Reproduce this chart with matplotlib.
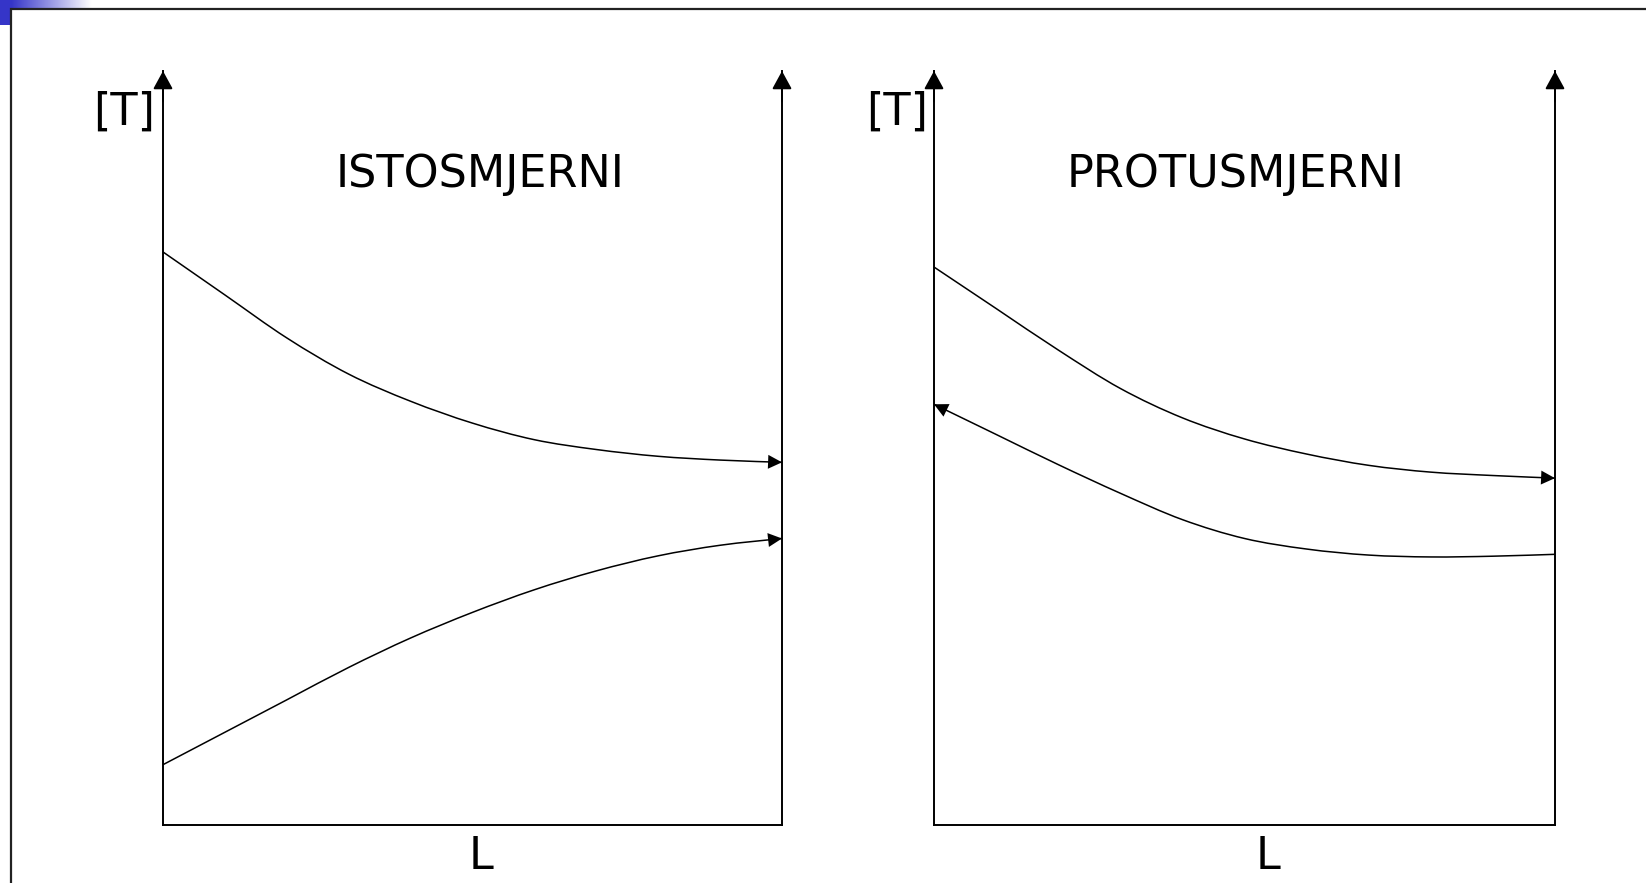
import numpy as np
import matplotlib
matplotlib.use("Agg")
import matplotlib.pyplot as plt
from matplotlib.patches import Rectangle, PathPatch
from matplotlib.path import Path
from matplotlib.colors import LinearSegmentedColormap

# --- data (L in 0..10, T in 0..100) ---
L_pts = [0, 1, 2, 3, 4, 5, 6, 7, 8, 9, 10]
isto_hot_T = [76.0, 70.3, 64.6, 59.8, 56.2, 53.3, 51.1, 49.8, 48.9, 48.4, 48.1]
isto_cold_T = [8.0, 12.3, 16.6, 20.9, 24.8, 28.2, 31.2, 33.7, 35.7, 37.1, 38.0]
proto_hot_T = [74.0, 68.5, 63.0, 57.9, 54.0, 51.2, 49.2, 47.7, 46.8, 46.35, 46.0]
proto_cold_T = [55.8, 51.8, 47.8, 44.0, 40.5, 38.0, 36.6, 35.8, 35.55, 35.65, 35.9]

titles = ["ISTOSMJERNI", "PROTUSMJERNI"]

W, H = 1646, 883
fig = plt.figure(figsize=(W / 100, H / 100), dpi=100)
fig.patch.set_facecolor("white")

# background axes in pixel coordinates for the slide frame and text
bg = fig.add_axes([0, 0, 1, 1], zorder=0)
bg.set_xlim(0, W)
bg.set_ylim(H, 0)
bg.axis("off")

# blue corner + gradient strip
grad = np.linspace(0, 1, 200).reshape(1, -1)
cmap = LinearSegmentedColormap.from_list("slide", ["#3535c8", "#ffffff"])
bg.imshow(grad, extent=[11, 92, 8, 0], cmap=cmap, aspect="auto", zorder=1)
bg.add_patch(Rectangle((0, 0), 11.5, 25, color="#3535c8", zorder=2, lw=0))
bg.plot([11.3, 11.3, W], [H, 9.3, 9.3], color="#222222", lw=1.6, zorder=3,
        solid_joinstyle="miter")


def smooth_path(L, T):
    # Catmull-Rom through the read points, drawn as cubic Bezier segments
    p = np.column_stack([L, T]).astype(float)
    verts = [p[0]]
    codes = [Path.MOVETO]
    n = len(p)
    for i in range(n - 1):
        p0 = p[i - 1] if i > 0 else p[i]
        p1, p2 = p[i], p[i + 1]
        p3 = p[i + 2] if i + 2 < n else p[i + 1]
        verts += [p1 + (p2 - p0) / 6, p2 - (p3 - p1) / 6, p2]
        codes += [Path.CURVE4] * 3
    return Path(verts, codes)


def panel(left_px, right_px, curves, title, title_x, tlabel_x, l_x):
    bottom_px, top_px = 825, 71
    ax = fig.add_axes([left_px / W, (H - bottom_px) / H,
                       (right_px - left_px) / W, (bottom_px - top_px) / H],
                      zorder=2)
    ax.set_xlim(0, 10)
    ax.set_ylim(0, 100)
    ax.patch.set_alpha(0)
    ax.spines["top"].set_visible(False)
    for s in ["left", "right", "bottom"]:
        ax.spines[s].set_linewidth(1.4)
        ax.spines[s].set_color("black")
    ax.set_xticks([])
    ax.set_yticks([])
    # vertical axis arrows
    for x in (0, 10):
        ax.annotate("", xy=(x, 100), xytext=(x, 96),
                    arrowprops=dict(arrowstyle="-|>,head_length=0.55,head_width=0.3",
                                    color="black", lw=1.4, shrinkA=0, shrinkB=0,
                                    mutation_scale=20),
                    annotation_clip=False)
    for L, T, at_end in curves:
        ax.add_patch(PathPatch(smooth_path(L, T), facecolor="none",
                               edgecolor="black", lw=1.1, clip_on=False))
        if at_end:
            p0, p1 = (L[-2], T[-2]), (L[-1], T[-1])
        else:
            p0, p1 = (L[1], T[1]), (L[0], T[0])
        ax.annotate("", xy=p1, xytext=p0,
                    arrowprops=dict(arrowstyle="-|>,head_length=0.5,head_width=0.25",
                                    color="black", lw=0.01, shrinkA=0, shrinkB=0,
                                    mutation_scale=20),
                    annotation_clip=False)
    bg.text(title_x, 186.7, title, fontsize=32, ha="center", va="baseline",
            family="DejaVu Sans", zorder=5)
    bg.text(tlabel_x, 125, "[T]", fontsize=32, ha="center", va="baseline",
            family="DejaVu Sans", zorder=5)
    bg.text(l_x, 869, "L", fontsize=32, ha="center", va="baseline",
            family="DejaVu Sans", zorder=5)
    return ax


panel(163, 782,
      [(L_pts, isto_hot_T, True), (L_pts, isto_cold_T, True)],
      titles[0], 480, 124, 481)
panel(934, 1555,
      [(L_pts, proto_hot_T, True), (L_pts, proto_cold_T, False)],
      titles[1], 1236, 897, 1268)

fig.savefig("out.png", dpi=100, facecolor="white")
